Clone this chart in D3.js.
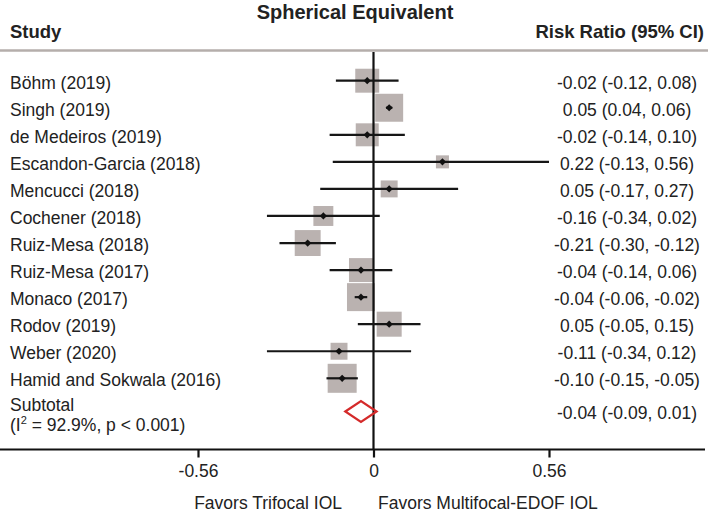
<!DOCTYPE html>
<html>
<head>
<meta charset="utf-8">
<script src="https://cdn.jsdelivr.net/npm/d3@7"></script>
<style>
body{margin:0;background:#fff;}
text{font-family:"Liberation Sans",Arial,sans-serif;fill:#222;}
</style>
</head>
<body>
<div class="canvas"></div>
<script>
// study data
const studies=['Böhm (2019)','Singh (2019)','de Medeiros (2019)','Escandon-Garcia (2018)','Mencucci (2018)','Cochener (2018)',
  'Ruiz-Mesa (2018)','Ruiz-Mesa (2017)','Monaco (2017)','Rodov (2019)','Weber (2020)','Hamid and Sokwala (2016)'];
const est=[-0.02,0.05,-0.02,0.22,0.05,-0.16,-0.21,-0.04,-0.04,0.05,-0.11,-0.10];
const lower=[-0.12,0.04,-0.14,-0.13,-0.17,-0.34,-0.30,-0.14,-0.06,-0.05,-0.34,-0.15];
const upper=[0.08,0.06,0.10,0.56,0.27,0.02,-0.12,0.06,-0.02,0.15,0.12,-0.05];
const weights=[8.8,12.0,8.1,2.6,4.4,6.1,10.3,8.8,12.0,9.6,4.4,12.9];//approx % weight from box size
const subtotal={est:-0.04,lower:-0.09,upper:0.01};
const tickVals=[-0.56,0,0.56];

const width=708,height=512;
const svg=d3.select('.canvas')
  .append('svg')
    .attr('width',width)
    .attr('height',height);

const x=d3.scaleLinear()
  .domain([-0.56,0.56])
  .range([198,549]);
const y=d3.scalePoint()
  .domain(d3.range(studies.length))
  .range([80.7,378.3]);
const size=d3.scaleSqrt()
  .domain([0,d3.max(weights)])
  .range([0,29]);

const subY=411.5;
const axisY=449.5;
const fmt=v=>v.toFixed(2);

//title and headers
svg.append('text').attr('x',355).attr('y',19)
  .attr('text-anchor','middle').style('font-size','20px').style('font-weight','bold')
  .text('Spherical Equivalent');
svg.append('text').attr('x',10).attr('y',38)
  .style('font-size','18.5px').style('font-weight','bold').text('Study');
svg.append('text').attr('x',704).attr('y',38).attr('text-anchor','end')
  .style('font-size','18.5px').style('font-weight','bold').text('Risk Ratio (95% CI)');
svg.append('line').attr('x1',0).attr('x2',width).attr('y1',50.5).attr('y2',50.5)
  .attr('stroke','#b5aeab').attr('stroke-width',2.5);

const rows=studies.map((s,i)=>({name:s,est:est[i],lo:lower[i],hi:upper[i],w:weights[i],i:i}));

//weight boxes
svg.append('g').selectAll('rect')
  .data(rows)
  .enter().append('rect')
    .attr('x',d=>x(d.est)-size(d.w)/2)
    .attr('y',d=>y(d.i)-size(d.w)/2)
    .attr('width',d=>size(d.w))
    .attr('height',d=>size(d.w))
    .attr('fill','#bab2b0');

//zero line
svg.append('line').attr('x1',x(0)).attr('x2',x(0)).attr('y1',52).attr('y2',axisY)
  .attr('stroke','#111').attr('stroke-width',2.2);

//confidence intervals
svg.append('g').selectAll('line')
  .data(rows)
  .enter().append('line')
    .attr('x1',d=>x(d.lo))
    .attr('x2',d=>x(d.hi))
    .attr('y1',d=>y(d.i))
    .attr('y2',d=>y(d.i))
    .attr('stroke','#161616')
    .attr('stroke-width',2.2);

//point estimates
svg.append('g').selectAll('path')
  .data(rows)
  .enter().append('path')
    .attr('d',d3.symbol(d3.symbolSquare,26))
    .attr('transform',d=>`translate(${x(d.est)},${y(d.i)}) rotate(45)`)
    .attr('fill','#111');

//study labels
svg.append('g').selectAll('text')
  .data(rows)
  .enter().append('text')
    .attr('x',10)
    .attr('y',d=>y(d.i)+8)
    .style('font-size','17.5px')
    .text(d=>d.name);

//estimate labels
svg.append('g').selectAll('text')
  .data(rows)
  .enter().append('text')
    .attr('x',627)
    .attr('y',d=>y(d.i)+8)
    .attr('text-anchor','middle')
    .style('font-size','17.5px')
    .text(d=>`${fmt(d.est)} (${fmt(d.lo)}, ${fmt(d.hi)})`);

//subtotal
svg.append('text').attr('x',10).attr('y',410.5).style('font-size','17.5px').text('Subtotal');
const het=svg.append('text').attr('x',10).attr('y',431).style('font-size','17.5px');
het.append('tspan').text('(I');
het.append('tspan').attr('dy',-7).style('font-size','11px').text('2');
het.append('tspan').attr('dy',7).text(' = 92.9%, p < 0.001)');
svg.append('text').attr('x',627).attr('y',subY+7.5).attr('text-anchor','middle')
  .style('font-size','17.5px')
  .text(`${fmt(subtotal.est)} (${fmt(subtotal.lower)}, ${fmt(subtotal.upper)})`);

const dh=10.5;
svg.append('path')
  .attr('d',`M${x(subtotal.lower)},${subY}L${x(subtotal.est)},${subY-dh}L${x(subtotal.upper)},${subY}L${x(subtotal.est)},${subY+dh}Z`)
  .attr('fill','none').attr('stroke','#d42a2a').attr('stroke-width',2.2);

//bottom axis
svg.append('line').attr('x1',0).attr('x2',705).attr('y1',axisY).attr('y2',axisY)
  .attr('stroke','#111').attr('stroke-width',2.2);
const xAxis=d3.axisBottom(x)
  .tickValues(tickVals)
  .tickSize(8)
  .tickPadding(7)
  .tickFormat(d=>d===0?'0':fmt(d));
const xAxisGroup=svg.append('g').attr('transform',`translate(0,${axisY})`).call(xAxis);
xAxisGroup.select('.domain').remove();
xAxisGroup.selectAll('line').attr('stroke','#111').attr('stroke-width',2.2);
xAxisGroup.selectAll('text')
  .style('font-size','17.5px')
  .attr('fill','#222')
  .style('font-family','"Liberation Sans",Arial,sans-serif');

svg.append('text').attr('x',342).attr('y',509).attr('text-anchor','end')
  .style('font-size','17.5px').text('Favors Trifocal IOL');
svg.append('text').attr('x',378).attr('y',509)
  .style('font-size','17.5px').text('Favors Multifocal-EDOF IOL');
</script>
</body>
</html>
